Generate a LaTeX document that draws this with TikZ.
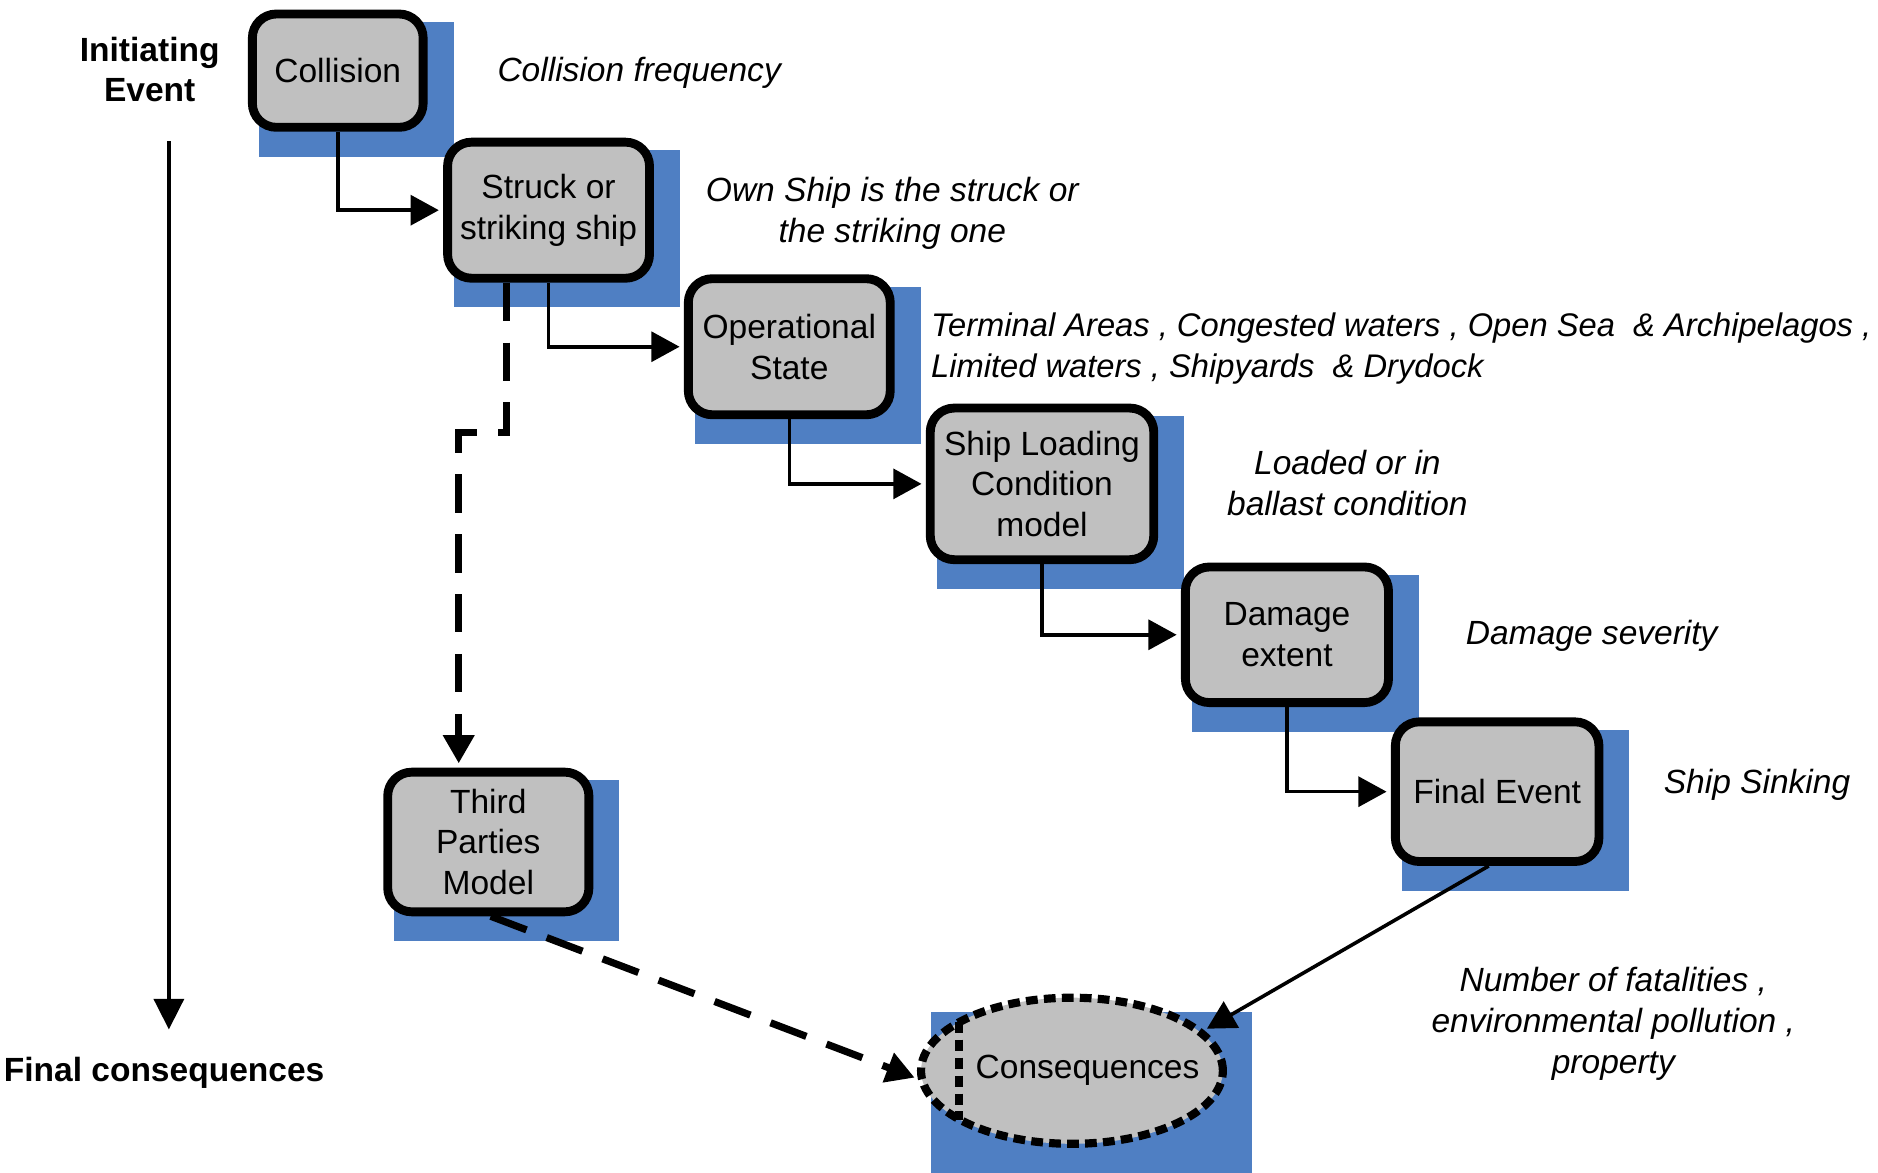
\documentclass[tikz,border=0pt]{standalone}
\usepackage{fontspec}
\setmainfont{Liberation Sans}
\usetikzlibrary{arrows.meta,shapes.geometric,backgrounds,calc}
\definecolor{shblue}{HTML}{4F7FC3}
\definecolor{boxgray}{HTML}{C0C0C0}
\begin{document}
\begin{tikzpicture}[x=0.5pt,y=-0.5pt,
  every node/.style={font=\fontsize{14}{17}\selectfont},
  mybox/.style={draw, line width=3.7pt, fill=boxgray, rounded corners=10pt, align=center, inner sep=0pt},
  conn/.style={line width=1.5pt, -{Triangle[length=11.8pt,width=12.5pt]}, shorten >=1.8pt},
  dconn/.style={line width=3pt, dash pattern=on 16pt off 9pt, line cap=butt, -{Triangle[length=11.8pt,width=12.5pt]}, shorten >=1.8pt},
  mynote/.style={font=\fontsize{14}{17}\selectfont\itshape, align=center, inner sep=0pt},
  mylabel/.style={font=\fontsize{14}{17}\selectfont\bfseries, align=center, inner sep=0pt},
  dotline/.style={line width=3.4pt, dash pattern=on 4.9pt off 2.6pt, line cap=butt}]
\useasboundingbox (0,0) rectangle (1568,979);

% boxes
\node[mybox, minimum width=71.3pt, minimum height=47.3pt] (coll) at (282,59) {Collision};
\node[mybox, minimum width=84.3pt, minimum height=56.8pt] (struck) at (458,175.5) {Struck or\\striking ship};
\node[mybox, minimum width=84.3pt, minimum height=56.8pt] (oper) at (659,289.5) {Operational\\State};
\node[mybox, minimum width=93.3pt, minimum height=63.3pt] (ship) at (870,404) {Ship Loading\\Condition\\model};
\node[mybox, minimum width=84.8pt, minimum height=56.6pt] (dam) at (1074.5,530) {Damage\\extent};
\node[mybox, minimum width=85pt, minimum height=58.3pt] (final) at (1250,661) {Final Event};
\node[mybox, minimum width=84pt, minimum height=58.3pt] (third) at (407.7,703) {Third\\Parties\\Model};
\node[ellipse, draw, fill=boxgray, dotline, minimum width=126pt, minimum height=61pt, inner sep=0pt] (cons) at (895,894) {};
\node (constext) at (908,894) {Consequences};
\coordinate (ch1) at (801,853);
\coordinate (ch2) at (801,935);
\draw[dotline] (ch1) -- (ch2);

% shadows
\begin{scope}[on background layer]
  \foreach \n in {coll,struck,oper,ship,dam,final,third}
    \fill[shblue] ($(\n.north west)+(9.3,10.3)$) rectangle ($(\n.south east)+(21.7,20.7)$);
  \fill[shblue] ($(cons.west |- cons.north)+(12,15.5)$) rectangle ($(cons.east |- cons.south)+(21,24)$);
\end{scope}

% solid connectors
\draw[conn] (coll.south) |- (struck.west);
\draw[conn] (struck.south) |- (oper.west);
\draw[conn] (oper.south) |- (ship.west);
\draw[conn] (ship.south) |- (dam.west);
\draw[conn] (dam.south) |- (final.west);
\draw[conn, shorten >=1.4pt] ($(final.south)+(-7,0)$) -- (cons.17);

% dashed connectors
\coordinate (d1) at (423,361);
\coordinate (d2) at (383,361);
\draw[dconn] (struck.south -| d1) -- (d1) -- (d2) -- (d2 |- third.north);
\draw[dconn, shorten >=1.4pt] ($(third.south)+(2,0)$) -- (cons.183);

% time axis
\node[mylabel] (init) at (125,58) {Initiating\\Event};
\node[mylabel] (finc) at (137,896) {Final consequences};
\coordinate (ltop) at (141,118);
\coordinate (lbot) at (141,859.5);
\draw[line width=1.5pt, -{Triangle[length=12.75pt,width=12.5pt]}] (ltop) -- (lbot);

% annotations
\node[mynote, anchor=west] (n1) at (415,61) {Collision frequency};
\node[mynote] (n2) at (745,178) {Own Ship is the struck or\\the striking one};
\node[mynote, anchor=west, align=left, font=\fontsize{13.65}{17}\selectfont\itshape] (n3) at (777,291) {Terminal Areas , Congested waters , Open Sea\ \ \& Archipelagos ,\\Limited waters ,\ Shipyards\ \ \& Drydock};
\node[mynote] (n4) at (1125,403) {Loaded or in\\ballast condition};
\node[mynote] (n5) at (1329,531) {Damage severity};
\node[mynote] (n6) at (1467,655) {Ship Sinking};
\node[mynote] (n7) at (1347,855) {Number of fatalities ,\\environmental pollution ,\\property};
\end{tikzpicture}
\end{document}
